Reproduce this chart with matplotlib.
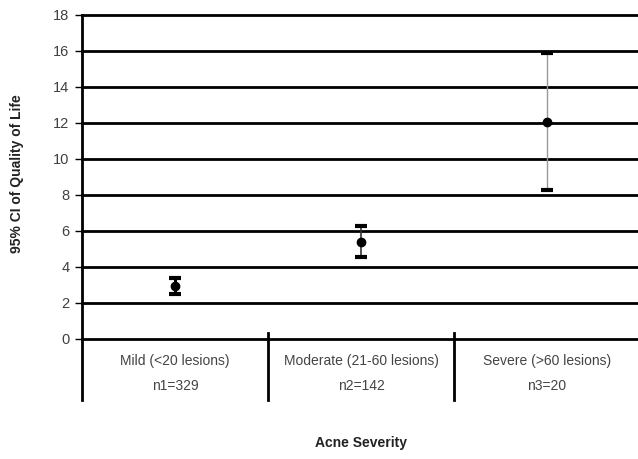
import numpy as np
import matplotlib.pyplot as plt

plt.rcParams['font.family'] = ['Liberation Sans', 'DejaVu Sans']

categories = ['Mild (<20 lesions)', 'Moderate (21-60 lesions)', 'Severe (>60 lesions)']
sample_sizes = ['n1=329', 'n2=142', 'n3=20']
means = [2.95, 5.4, 12.05]
ci_low = [2.5, 4.55, 8.25]
ci_high = [3.4, 6.25, 15.9]
bar_colors = ['black', '#333333', '#999999']
bar_widths = [2.2, 1.2, 1.0]


def main():
    fig = plt.figure(figsize=(6.38, 4.59), dpi=100)
    ax = fig.add_axes([82 / 638, 120 / 459, 558 / 638, 324 / 459])

    x = np.arange(len(categories)) + 0.5
    for yv in range(0, 19, 2):
        ax.axhline(yv, color='black', lw=2, zorder=1, clip_on=False)

    for i in range(len(categories)):
        lo = means[i] - ci_low[i]
        hi = ci_high[i] - means[i]
        ax.errorbar(x[i], means[i], yerr=[[lo], [hi]], fmt='none',
                    ecolor=bar_colors[i], elinewidth=bar_widths[i], capsize=0, zorder=3)
        ax.plot([x[i]] * 2, [ci_low[i], ci_high[i]], ls='none', marker='_',
                ms=9, mew=3, color='black', zorder=4)
        ax.plot(x[i], means[i], 'o', color='black', ms=6, zorder=5)

    ax.set_xlim(0, 3)
    ax.set_ylim(0, 18)
    ax.set_yticks(range(0, 19, 2))
    ax.tick_params(axis='y', labelsize=10.5, labelcolor='#404040', length=5, width=1, pad=4)
    ax.set_xticks([])
    for s in ['top', 'right', 'bottom']:
        ax.spines[s].set_visible(False)
    ax.spines['left'].set_linewidth(2)

    # category table below the axis
    ax.plot([0, 0], [0, -3.4], color='black', lw=2, clip_on=False)
    for xd in [1, 2]:
        ax.plot([xd, xd], [0.33, -3.4], color='black', lw=2, clip_on=False)
    for i in range(len(categories)):
        ax.text(x[i], -1.2, categories[i], ha='center', va='center', fontsize=10,
                color='#444444', clip_on=False)
        ax.text(x[i], -2.6, sample_sizes[i], ha='center', va='center', fontsize=10,
                color='#444444', clip_on=False)

    fig.text(361 / 638, 1 - 443 / 459, 'Acne Severity', ha='center', va='center',
             fontsize=10, fontweight='bold', color='#222222')
    fig.text(17 / 638, 1 - 174 / 459, '95% CI of Quality of Life', ha='center', va='center',
             rotation=90, fontsize=10, fontweight='bold', color='#222222')

    fig.savefig('out.png', dpi=100)


if __name__ == '__main__':
    main()
